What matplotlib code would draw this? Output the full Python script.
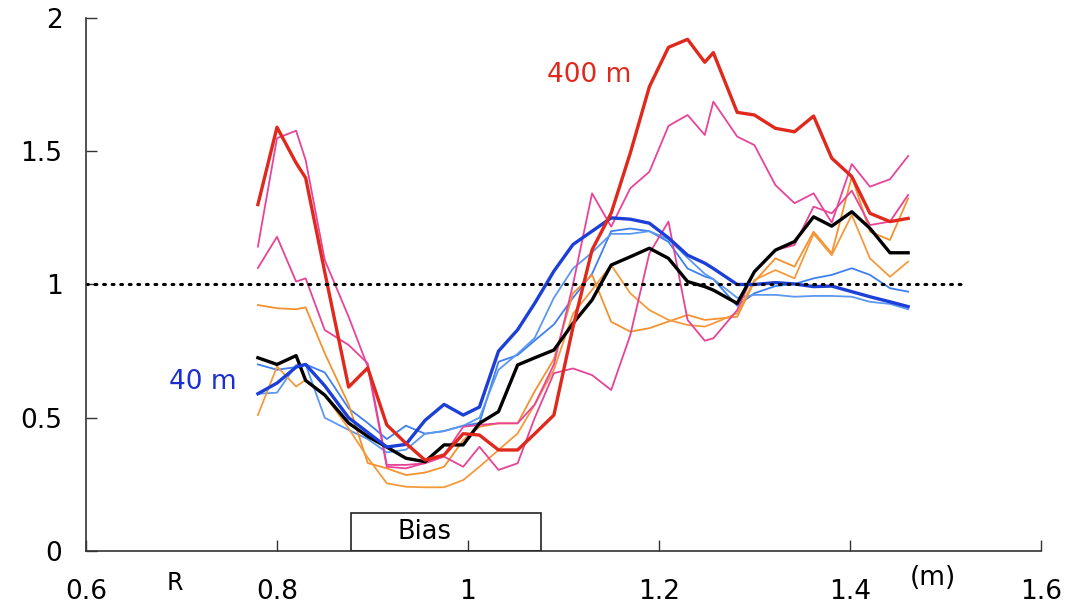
import matplotlib
matplotlib.use("Agg")
import matplotlib.pyplot as plt
from matplotlib.patches import Rectangle

plt.rcParams['font.family'] = ['DejaVu Sans']

# radial positions (m), shared by all profiles
r = [0.78, 0.80, 0.82, 0.83, 0.85, 0.875, 0.895, 0.915, 0.935, 0.955,
     0.975, 0.995, 1.012, 1.032, 1.052, 1.07, 1.09, 1.11, 1.13, 1.15,
     1.17, 1.19, 1.21, 1.23, 1.248, 1.257, 1.282, 1.30, 1.322, 1.342,
     1.362, 1.381, 1.402, 1.421, 1.442, 1.461]

blue_40m = [0.59, 0.63, 0.69, 0.70, 0.62, 0.50, 0.445, 0.39, 0.40, 0.49,
            0.55, 0.51, 0.54, 0.75, 0.83, 0.93, 1.05, 1.15, 1.20, 1.25,
            1.245, 1.23, 1.175, 1.11, 1.08, 1.06, 1.00, 1.00, 1.007, 1.002,
            0.992, 0.994, 0.973, 0.954, 0.935, 0.917]
lblue_a = [0.70, 0.68, 0.69, 0.70, 0.67, 0.535, 0.48, 0.42, 0.47, 0.44,
           0.45, 0.47, 0.48, 0.71, 0.735, 0.79, 0.85, 0.95, 1.04, 1.20,
           1.21, 1.20, 1.16, 1.06, 1.03, 1.02, 0.92, 0.967, 0.994, 1.002,
           1.023, 1.036, 1.061, 1.036, 0.986, 0.973]
lblue_b = [0.59, 0.594, 0.698, 0.70, 0.50, 0.454, 0.42, 0.37, 0.38, 0.44,
           0.45, 0.47, 0.50, 0.68, 0.74, 0.80, 0.95, 1.06, 1.12, 1.19,
           1.19, 1.20, 1.17, 1.10, 1.04, 1.02, 0.95, 0.961, 0.961, 0.954,
           0.957, 0.957, 0.954, 0.935, 0.927, 0.907]
black = [0.725, 0.70, 0.733, 0.64, 0.585, 0.48, 0.43, 0.39, 0.348, 0.335,
         0.398, 0.398, 0.479, 0.523, 0.698, 0.725, 0.754, 0.854, 0.942, 1.073,
         1.104, 1.136, 1.098, 1.011, 0.992, 0.979, 0.929, 1.048, 1.129, 1.161,
         1.254, 1.219, 1.273, 1.211, 1.119, 1.119]
orange_a = [0.923, 0.911, 0.907, 0.914, 0.742, 0.55, 0.33, 0.31, 0.285, 0.294,
            0.316, 0.416, 0.466, 0.479, 0.479, 0.60, 0.72, 0.967, 1.036, 0.86,
            0.823, 0.836, 0.861, 0.886, 0.867, 0.87, 0.879, 1.011, 1.098, 1.067,
            1.198, 1.117, 1.405, 1.198, 1.167, 1.323]
orange_b = [0.51, 0.692, 0.617, 0.642, 0.585, 0.46, 0.35, 0.254, 0.241, 0.239,
            0.239, 0.266, 0.316, 0.379, 0.441, 0.55, 0.68, 0.89, 0.98, 1.073,
            0.967, 0.904, 0.867, 0.848, 0.842, 0.854, 0.892, 1.017, 1.054, 1.023,
            1.19, 1.11, 1.261, 1.098, 1.029, 1.086]
pink_a = [1.142, 1.549, 1.577, 1.467, 1.092, 0.879, 0.692, 0.316, 0.31, 0.33,
          0.36, 0.466, 0.473, 0.479, 0.479, 0.55, 0.70, 1.00, 1.342, 1.217,
          1.361, 1.423, 1.595, 1.636, 1.561, 1.686, 1.555, 1.523, 1.373, 1.305,
          1.342, 1.232, 1.452, 1.367, 1.395, 1.482]
pink_b = [1.062, 1.179, 1.011, 1.023, 0.829, 0.773, 0.704, 0.323, 0.323, 0.329,
          0.354, 0.316, 0.391, 0.304, 0.329, 0.50, 0.667, 0.685, 0.66, 0.604,
          0.81, 1.117, 1.236, 0.867, 0.789, 0.798, 0.904, 1.048, 1.129, 1.148,
          1.292, 1.267, 1.352, 1.223, 1.236, 1.336]
red_400m = [1.30, 1.59, 1.456, 1.40, 1.047, 0.615, 0.687, 0.473, 0.404, 0.341,
            0.36, 0.44, 0.435, 0.379, 0.379, 0.44, 0.51, 0.84, 1.13, 1.268,
            1.493, 1.742, 1.89, 1.92, 1.834, 1.87, 1.646, 1.636, 1.586, 1.573,
            1.632, 1.474, 1.405, 1.267, 1.236, 1.248]

xticks = [0.6, 0.8, 1.0, 1.2, 1.4, 1.6]
xtick_labels = ['0.6', '0.8', '1', '1.2', '1.4', '1.6']
yticks = [0, 0.5, 1, 1.5, 2]
ytick_labels = ['0', '0.5', '1', '1.5', '2']

bias_start, bias_end, bias_height = 0.877, 1.076, 0.143


def main():
    fig = plt.figure(figsize=(10.85, 6.08), dpi=100)
    ax = fig.add_axes([0.0793, 0.0938, 0.880, 0.8766])

    thin = 1.3
    thick = 2.4
    ax.plot(r, lblue_a, color='#3f7ff0', lw=thin)
    ax.plot(r, lblue_b, color='#5b98f0', lw=thin)
    ax.plot(r, orange_a, color='#f3922f', lw=thin)
    ax.plot(r, orange_b, color='#f59a3c', lw=thin)
    ax.plot(r, pink_a, color='#e8449a', lw=thin)
    ax.plot(r, pink_b, color='#e64496', lw=thin)
    ax.plot(r, black, color='black', lw=thick)
    ax.plot(r, blue_40m, color='#1c3fd8', lw=thick)
    ax.plot(r, red_400m, color='#e0281c', lw=thick)

    ax.plot([0.6, 1.518], [1, 1], color='black', lw=2.2,
            linestyle=(0, (0.6, 2.2)), dash_capstyle='round')

    ax.add_patch(Rectangle((bias_start, 0), bias_end - bias_start, bias_height,
                           fill=False, edgecolor='#222222', lw=1.2, zorder=5))
    ax.text(0.955, 0.07, 'Bias', fontsize=18.5, ha='center', va='center')

    ax.text(1.127, 1.786, '400 m', color='#e0281c', fontsize=19,
            ha='center', va='center')
    ax.text(0.722, 0.635, '40 m', color='#1c2fd0', fontsize=19,
            ha='center', va='center')

    ax.set_xlim(0.6, 1.6)
    ax.set_ylim(0, 2)
    ax.set_xticks(xticks, xtick_labels)
    ax.set_yticks(yticks, ytick_labels)
    ax.tick_params(direction='in', length=8, width=1, color='#333333',
                   labelsize=19)
    ax.tick_params(axis='x', pad=20)
    ax.tick_params(axis='y', pad=17)

    for side in ['top', 'right']:
        ax.spines[side].set_visible(False)
    for side in ['left', 'bottom']:
        ax.spines[side].set_color('#333333')
        ax.spines[side].set_linewidth(1.2)

    ax.text(0.693, -0.12, 'R', fontsize=17, ha='center', va='center')
    ax.text(1.487, -0.10, '(m)', fontsize=19, ha='center', va='center')

    fig.savefig('out.png', dpi=100)


if __name__ == "__main__":
    main()
